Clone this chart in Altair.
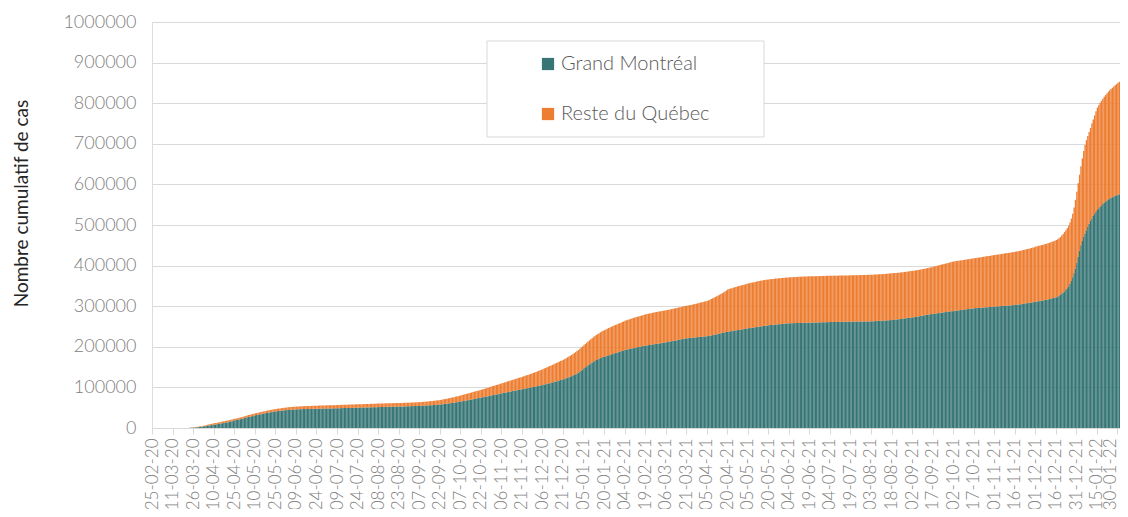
import altair as alt
import pandas as pd

FONT = "Lato"
TEAL = "#387676"
ORANGE = "#ED7D31"

# Cumulative cases, all of Québec (thousands), one value per day starting 25-02-20
total_k = [
    0, 0, 0.001, 0.001, 0.001, 0.001, 0.001, 0.001, 0.001, 0.002, 0.003, 0.003, 0.004, 0.005, 0.007,
    0.01, 0.02, 0.02, 0.03, 0.04, 0.05, 0.07, 0.09, 0.12, 0.14, 0.18, 0.22, 0.63, 1.0, 1.3,
    1.6, 2.0, 2.5, 2.8, 3.4, 4.2, 4.6, 5.5, 6.1, 7.0, 7.9, 8.6, 9.3, 10.0, 10.9,
    11.7, 12.3, 12.8, 13.6, 14.2, 14.9, 15.9, 16.8, 17.5, 18.0, 18.4, 19.3, 20.1, 21.0, 21.8,
    22.6, 23.3, 24.1, 25.0, 25.8, 26.6, 27.5, 28.6, 29.7, 30.8, 31.9, 32.6, 33.4, 34.3, 35.2,
    36.2, 37.0, 37.7, 38.5, 39.2, 40.0, 40.7, 41.4, 42.2, 42.9, 43.6, 44.2, 44.8, 45.5, 46.1,
    46.7, 47.3, 47.8, 48.3, 48.8, 49.3, 49.7, 50.1, 50.5, 50.9, 51.2, 51.5, 51.8, 52.1, 52.4,
    52.6, 52.8, 53.0, 53.2, 53.4, 53.6, 53.8, 54.0, 54.1, 54.3, 54.4, 54.5, 54.6, 54.7, 54.8,
    55.0, 55.1, 55.2, 55.3, 55.4, 55.5, 55.6, 55.7, 55.8, 55.9, 56.0, 56.1, 56.2, 56.3, 56.4,
    56.6, 56.7, 56.8, 56.9, 57.0, 57.2, 57.3, 57.4, 57.5, 57.6, 57.7, 57.9, 58.0, 58.1, 58.3,
    58.5, 58.6, 58.7, 58.8, 58.9, 59.0, 59.1, 59.3, 59.4, 59.5, 59.6, 59.7, 59.8, 59.9, 60.1,
    60.2, 60.3, 60.4, 60.5, 60.6, 60.7, 60.8, 60.9, 61.0, 61.1, 61.1, 61.2, 61.3, 61.3, 61.4,
    61.5, 61.6, 61.7, 61.9, 62.0, 62.1, 62.3, 62.4, 62.5, 62.7, 62.8, 62.9, 63.1, 63.2, 63.4,
    63.5, 63.8, 64.1, 64.4, 64.7, 65.0, 65.3, 65.6, 66.0, 66.4, 66.8, 67.2, 67.6, 68.0, 68.5,
    69.0, 69.6, 70.2, 70.9, 71.6, 72.3, 73.0, 73.7, 74.4, 75.2, 76.0, 76.8, 77.6, 78.3, 79.1,
    80.0, 81.0, 82.0, 83.0, 84.0, 84.9, 85.8, 86.7, 87.6, 88.5, 89.5, 90.4, 91.3, 92.2, 93.1,
    94.0, 95.0, 96.1, 97.2, 98.3, 99.4, 100.5, 101.6, 102.6, 103.6, 104.7, 105.8, 106.8, 107.9, 108.9,
    110.0, 111.1, 112.2, 113.3, 114.4, 115.4, 116.4, 117.5, 118.6, 119.7, 120.7, 121.8, 122.9, 123.9, 125.0,
    126.0, 127.2, 128.4, 129.6, 130.8, 132.0, 133.2, 134.4, 135.6, 136.9, 138.2, 139.5, 140.8, 142.2, 143.6,
    145.0, 146.5, 148.0, 149.5, 151.0, 152.5, 154.0, 155.5, 157.0, 158.6, 160.2, 161.8, 163.4, 165.0, 166.5,
    168.0, 170.0, 172.0, 174.2, 176.2, 178.2, 180.0, 182.0, 184.5, 187.0, 189.5, 192.0, 195.0, 198.0, 201.0,
    204.0, 207.0, 210.0, 213.0, 215.8, 218.5, 221.2, 223.8, 226.4, 228.8, 231.2, 233.5, 235.6, 237.5, 239.3,
    241.0, 242.8, 244.5, 246.2, 247.8, 249.4, 250.9, 252.4, 253.8, 255.2, 256.6, 258.0, 259.4, 260.8, 262.4,
    264.0, 265.2, 266.4, 267.5, 268.6, 269.7, 270.8, 271.9, 272.9, 273.9, 274.9, 275.9, 276.9, 278.0, 279.0,
    280.0, 280.7, 281.4, 282.1, 282.8, 283.5, 284.2, 284.9, 285.5, 286.2, 286.9, 287.5, 288.2, 288.8, 289.4,
    290.0, 290.7, 291.4, 292.1, 292.8, 293.5, 294.2, 295.0, 295.7, 296.5, 297.3, 298.0, 298.8, 299.6, 300.3,
    301.0, 301.7, 302.4, 303.1, 303.8, 304.6, 305.4, 306.2, 307.0, 307.9, 308.8, 309.7, 310.6, 311.5, 312.3,
    313.0, 314.5, 316.0, 317.6, 319.2, 320.9, 322.6, 324.4, 326.2, 328.1, 330.0, 332.0, 334.0, 336.0, 338.5,
    341.0, 342.2, 343.3, 344.4, 345.5, 346.5, 347.5, 348.5, 349.5, 350.4, 351.3, 352.2, 353.1, 354.0, 355.0,
    356.0, 356.8, 357.6, 358.4, 359.2, 359.9, 360.6, 361.3, 362.0, 362.7, 363.3, 363.9, 364.5, 365.0, 365.5,
    366.0, 366.4, 366.8, 367.2, 367.6, 368.0, 368.3, 368.6, 368.9, 369.2, 369.5, 369.8, 370.2, 370.5, 370.8,
    371.0, 371.2, 371.4, 371.6, 371.8, 372.0, 372.2, 372.4, 372.6, 372.8, 372.9, 373.0, 373.1, 373.2, 373.4,
    373.5, 373.6, 373.7, 373.8, 373.9, 374.0, 374.1, 374.2, 374.3, 374.4, 374.5, 374.6, 374.7, 374.8, 374.9,
    375.0, 375.1, 375.1, 375.2, 375.3, 375.3, 375.4, 375.5, 375.5, 375.6, 375.7, 375.7, 375.8, 375.9, 375.9,
    376.0, 376.1, 376.2, 376.3, 376.4, 376.5, 376.6, 376.7, 376.8, 376.9, 377.0, 377.1, 377.2, 377.3, 377.4,
    377.5, 377.7, 377.9, 378.1, 378.3, 378.5, 378.7, 378.9, 379.1, 379.3, 379.6, 379.9, 380.2, 380.5, 380.7,
    381.0, 381.3, 381.6, 381.9, 382.2, 382.6, 383.0, 383.4, 383.8, 384.2, 384.6, 385.0, 385.5, 386.0, 386.5,
    387.0, 387.5, 388.0, 388.6, 389.2, 389.8, 390.4, 391.0, 391.7, 392.4, 393.1, 393.8, 394.5, 395.3, 396.1,
    397.0, 397.8, 398.6, 399.5, 400.4, 401.3, 402.2, 403.1, 404.0, 404.9, 405.8, 406.7, 407.6, 408.4, 409.2,
    410.0, 410.6, 411.2, 411.7, 412.2, 412.7, 413.2, 413.7, 414.2, 414.8, 415.3, 415.9, 416.4, 416.9, 417.5,
    418.0, 418.5, 419.1, 419.6, 420.1, 420.7, 421.2, 421.8, 422.3, 422.8, 423.4, 423.9, 424.4, 424.9, 425.5,
    426.0, 426.5, 427.0, 427.6, 428.1, 428.6, 429.2, 429.7, 430.2, 430.8, 431.3, 431.8, 432.4, 432.9, 433.5,
    434.0, 434.7, 435.4, 436.1, 436.8, 437.6, 438.4, 439.2, 440.0, 440.8, 441.6, 442.5, 443.4, 444.3, 445.1,
    447.0, 447.8, 448.6, 449.4, 450.3, 451.2, 452.1, 453.0, 454.0, 455.1, 456.2, 457.4, 458.7, 460.0, 461.5,
    463.0, 465.0, 467.5, 470.5, 474.0, 478.0, 482.5, 487.0, 492.0, 498.0, 506.0, 516.0, 528.0, 543.0, 562.0,
    582.0, 603.0, 624.0, 645.0, 664.0, 682.0, 697.0, 709.0, 719.0, 729.0, 739.0, 750.0, 760.0, 770.0, 780.0,
    789.0, 795.0, 801.0, 806.0, 811.0, 816.0, 820.0, 824.0, 828.0, 832.0, 835.0, 838.0, 841.0, 844.0, 847.0,
    850.0, 853.0,
]

# Cumulative cases, Grand Montréal (thousands), same days
grand_montreal_k = [
    0, 0, 0, 0, 0, 0, 0, 0, 0, 0.001, 0.001, 0.001, 0.002, 0.003, 0.004,
    0.006, 0.012, 0.012, 0.018, 0.024, 0.03, 0.045, 0.06, 0.08, 0.09, 0.12, 0.15, 0.42, 0.67, 0.88,
    1.1, 1.4, 1.7, 1.9, 2.3, 2.9, 3.2, 3.8, 4.2, 4.9, 5.5, 6.0, 6.5, 7.0, 7.6,
    8.2, 8.7, 9.1, 9.8, 10.3, 10.9, 11.8, 12.6, 13.3, 13.8, 14.3, 15.2, 16.0, 16.9, 17.8,
    19.0, 19.6, 20.3, 21.1, 21.8, 22.5, 23.3, 24.3, 25.3, 26.3, 27.3, 27.9, 28.6, 29.4, 30.3,
    31.5, 32.2, 32.8, 33.5, 34.1, 34.8, 35.4, 36.1, 36.8, 37.4, 38.0, 38.6, 39.2, 39.8, 40.4,
    41.0, 41.5, 41.9, 42.3, 42.7, 43.1, 43.5, 43.8, 44.1, 44.4, 44.7, 45.0, 45.3, 45.5, 45.8,
    46.0, 46.1, 46.2, 46.3, 46.4, 46.5, 46.6, 46.7, 46.8, 46.9, 47.0, 47.1, 47.2, 47.3, 47.4,
    47.5, 47.6, 47.7, 47.7, 47.8, 47.9, 47.9, 48.0, 48.1, 48.1, 48.2, 48.3, 48.4, 48.4, 48.5,
    48.6, 48.7, 48.8, 48.9, 49.0, 49.1, 49.2, 49.3, 49.4, 49.5, 49.5, 49.6, 49.7, 49.8, 49.9,
    50.0, 50.1, 50.2, 50.3, 50.4, 50.5, 50.6, 50.7, 50.8, 50.9, 51.0, 51.1, 51.2, 51.3, 51.4,
    51.5, 51.6, 51.7, 51.8, 51.9, 52.0, 52.0, 52.1, 52.2, 52.3, 52.3, 52.4, 52.5, 52.6, 52.7,
    52.8, 52.9, 53.0, 53.1, 53.2, 53.3, 53.4, 53.5, 53.6, 53.8, 53.9, 54.0, 54.1, 54.2, 54.4,
    54.5, 54.7, 54.9, 55.1, 55.3, 55.5, 55.7, 55.9, 56.1, 56.3, 56.5, 56.8, 57.1, 57.4, 57.7,
    58.0, 58.4, 58.8, 59.2, 59.6, 60.0, 60.4, 60.9, 61.4, 61.9, 62.4, 62.9, 63.4, 63.9, 64.4,
    65.0, 65.7, 66.4, 67.1, 67.8, 68.4, 69.0, 69.6, 70.3, 71.0, 71.7, 72.4, 73.0, 73.7, 74.3,
    75.0, 75.7, 76.4, 77.1, 77.8, 78.5, 79.2, 79.9, 80.6, 81.3, 82.0, 82.7, 83.4, 84.1, 84.8,
    85.5, 86.2, 86.9, 87.6, 88.3, 88.9, 89.5, 90.2, 90.9, 91.6, 92.2, 92.9, 93.6, 94.2, 94.9,
    95.5, 96.2, 96.9, 97.6, 98.3, 99.0, 99.7, 100.4, 101.1, 101.8, 102.5, 103.2, 103.9, 104.6, 105.3,
    106.0, 106.9, 107.8, 108.7, 109.6, 110.5, 111.4, 112.3, 113.2, 114.1, 115.0, 116.0, 117.0, 118.0, 119.0,
    120.0, 121.3, 122.6, 124.0, 125.3, 126.6, 127.8, 129.2, 130.8, 132.6, 134.4, 136.4, 138.6, 141.2, 144.0,
    147.0, 149.5, 152.0, 154.5, 156.8, 159.0, 161.2, 163.3, 165.3, 167.2, 169.0, 170.7, 172.2, 173.5, 174.6,
    175.5, 176.7, 177.9, 179.0, 180.1, 181.2, 182.3, 183.4, 184.5, 185.6, 186.7, 187.8, 188.9, 189.9, 190.9,
    192.0, 192.8, 193.5, 194.3, 195.0, 195.8, 196.5, 197.3, 198.0, 198.8, 199.5, 200.3, 201.0, 201.7, 202.4,
    203.0, 203.5, 204.1, 204.6, 205.2, 205.7, 206.2, 206.8, 207.3, 207.9, 208.4, 208.9, 209.5, 210.0, 210.5,
    211.0, 211.7, 212.3, 213.0, 213.7, 214.3, 215.0, 215.7, 216.3, 217.0, 217.7, 218.3, 219.0, 219.7, 220.3,
    221.0, 221.3, 221.7, 222.0, 222.3, 222.7, 223.0, 223.3, 223.7, 224.0, 224.3, 224.7, 225.0, 225.3, 225.7,
    226.0, 226.7, 227.4, 228.1, 228.8, 229.5, 230.2, 231.0, 231.8, 232.6, 233.4, 234.2, 235.0, 235.7, 236.4,
    237.0, 237.6, 238.2, 238.8, 239.4, 239.9, 240.5, 241.0, 241.6, 242.1, 242.7, 243.2, 243.8, 244.3, 244.9,
    245.5, 246.0, 246.6, 247.1, 247.6, 248.1, 248.6, 249.1, 249.6, 250.1, 250.6, 251.1, 251.6, 252.0, 252.5,
    253.0, 253.4, 253.8, 254.1, 254.5, 254.8, 255.1, 255.5, 255.8, 256.1, 256.4, 256.8, 257.1, 257.4, 257.7,
    258.0, 258.1, 258.2, 258.3, 258.4, 258.5, 258.6, 258.7, 258.8, 258.9, 259.0, 259.1, 259.2, 259.3, 259.4,
    259.5, 259.6, 259.7, 259.8, 259.9, 260.0, 260.1, 260.2, 260.3, 260.4, 260.5, 260.6, 260.7, 260.8, 260.9,
    261.0, 261.1, 261.1, 261.2, 261.3, 261.3, 261.4, 261.5, 261.5, 261.6, 261.7, 261.7, 261.8, 261.9, 261.9,
    262.0, 262.0, 262.1, 262.1, 262.2, 262.2, 262.3, 262.3, 262.4, 262.4, 262.5, 262.5, 262.6, 262.6, 262.7,
    262.7, 262.9, 263.1, 263.3, 263.5, 263.7, 263.9, 264.1, 264.3, 264.5, 264.8, 265.0, 265.3, 265.5, 265.8,
    266.0, 266.4, 266.8, 267.2, 267.6, 268.0, 268.5, 268.9, 269.4, 269.8, 270.3, 270.7, 271.2, 271.6, 272.1,
    272.5, 273.0, 273.6, 274.1, 274.7, 275.2, 275.8, 276.4, 277.0, 277.6, 278.2, 278.8, 279.4, 280.0, 280.5,
    281.0, 281.5, 282.0, 282.5, 283.0, 283.5, 284.0, 284.5, 285.0, 285.5, 286.0, 286.5, 287.0, 287.4, 287.7,
    288.0, 288.5, 289.0, 289.5, 289.9, 290.4, 290.9, 291.4, 291.8, 292.3, 292.8, 293.3, 293.8, 294.2, 294.6,
    295.0, 295.3, 295.6, 295.8, 296.1, 296.4, 296.6, 296.9, 297.2, 297.4, 297.7, 298.0, 298.2, 298.5, 298.7,
    299.0, 299.3, 299.6, 299.8, 300.1, 300.4, 300.6, 300.9, 301.2, 301.4, 301.7, 302.0, 302.2, 302.5, 302.7,
    303.0, 303.5, 304.0, 304.5, 305.0, 305.5, 306.0, 306.5, 307.0, 307.6, 308.2, 308.8, 309.4, 310.0, 310.5,
    311.0, 311.6, 312.2, 312.8, 313.4, 314.0, 314.7, 315.4, 316.1, 316.8, 317.6, 318.4, 319.3, 320.2, 321.1,
    322.0, 324.0, 326.0, 328.5, 331.0, 333.5, 336.5, 340.0, 344.0, 349.0, 355.0, 362.0, 371.0, 381.0, 393.0,
    407.0, 422.0, 437.0, 450.0, 461.0, 471.0, 479.0, 487.0, 495.0, 503.0, 510.0, 516.0, 522.0, 527.0, 532.0,
    537.0, 541.0, 545.0, 548.5, 552.0, 555.0, 558.0, 560.5, 563.0, 565.0, 567.0, 568.5, 570.0, 571.5, 573.0,
    574.5, 576.0,
]

series_names = ["Grand Montréal", "Reste du Québec"]

tick_labels = [
    "25-02-20", "11-03-20", "26-03-20", "10-04-20", "25-04-20", "10-05-20", "25-05-20",
    "09-06-20", "24-06-20", "09-07-20", "24-07-20", "08-08-20", "23-08-20", "07-09-20",
    "22-09-20", "07-10-20", "22-10-20", "06-11-20", "21-11-20", "06-12-20", "21-12-20",
    "05-01-21", "20-01-21", "04-02-21", "19-02-21", "06-03-21", "21-03-21", "05-04-21",
    "20-04-21", "05-05-21", "20-05-21", "04-06-21", "19-06-21", "04-07-21", "19-07-21",
    "03-08-21", "18-08-21", "02-09-21", "17-09-21", "02-10-21", "17-10-21", "01-11-21",
    "16-11-21", "01-12-21", "16-12-21", "31-12-21", "15-01-22", "30-01-22",
]

y_ticks = [0, 100000, 200000, 300000, 400000, 500000, 600000, 700000, 800000, 900000, 1000000]

n = min(len(total_k), len(grand_montreal_k))
dates = pd.date_range("2020-02-25", periods=n, freq="D").strftime("%d-%m-%y").tolist()

rows = []
for i in range(n):
    gm = grand_montreal_k[i] * 1000
    rest = max(total_k[i] - grand_montreal_k[i], 0) * 1000
    rows.append({"date": dates[i], "serie": series_names[0], "ord": 0, "cas": gm})
    rows.append({"date": dates[i], "serie": series_names[1], "ord": 1, "cas": rest})
df = pd.DataFrame(rows)

last_label = tick_labels[-1]

bars = alt.Chart(df).mark_bar().encode(
    x=alt.X(
        "date:O",
        sort=None,
        title=None,
        scale=alt.Scale(paddingInner=0, paddingOuter=0),
        axis=alt.Axis(
            values=tick_labels,
            labelAngle=270,
            labelFontSize=17,
            labelFontWeight=300,
            labelColor="#808080",
            labelFont=FONT,
            labelPadding=4,
            labelOverlap=False,
            labelOffset={"condition": {"test": f"datum.value === '{last_label}'", "value": -7}, "value": 0},
            tickColor="#d9d9d9",
            tickSize=6,
            domainColor="#d9d9d9",
            grid=False,
        ),
    ),
    y=alt.Y(
        "cas:Q",
        stack="zero",
        title="Nombre cumulatif de cas",
        scale=alt.Scale(domain=[0, 1000000], nice=False),
        axis=alt.Axis(
            values=y_ticks,
            format="d",
            labelFontSize=18,
            labelFontWeight=300,
            labelColor="#808080",
            labelFont=FONT,
            labelPadding=16,
            domain=False,
            ticks=False,
            grid=True,
            gridColor="#d9d9d9",
            titleFont=FONT,
            titleFontSize=19,
            titleFontWeight="normal",
            titleColor="#262626",
            titleX=-121,
            titleY=181,
            titleAlign="center",
        ),
    ),
    color=alt.Color(
        "serie:N",
        scale=alt.Scale(domain=series_names, range=[TEAL, ORANGE]),
        legend=alt.Legend(
            title=None,
            orient="none",
            legendX=386,
            legendY=32,
            symbolType="square",
            symbolSize=150,
            symbolStrokeWidth=0,
            labelFont=FONT,
            labelFontSize=20,
            labelFontWeight=300,
            labelColor="#595959",
            labelOffset=3,
            rowPadding=30,
            padding=0,
        ),
    ),
    order=alt.Order("ord:Q", sort="ascending"),
)

legend_box = alt.Chart(alt.Data(values=[{"k": 0}])).mark_rect(
    fill="white", stroke="#d9d9d9", strokeWidth=1
).encode(
    x=alt.value(335), x2=alt.value(612), y=alt.value(19), y2=alt.value(115)
)

chart = alt.layer(legend_box, bars).properties(
    width=968,
    height=406,
    autosize=alt.AutoSizeParams(type="none"),
    padding={"left": 144, "top": 14, "right": 0, "bottom": 81},
).configure_view(stroke=None).configure(font=FONT)

chart.save("out.html", embed_options={"renderer": "svg", "actions": False})
